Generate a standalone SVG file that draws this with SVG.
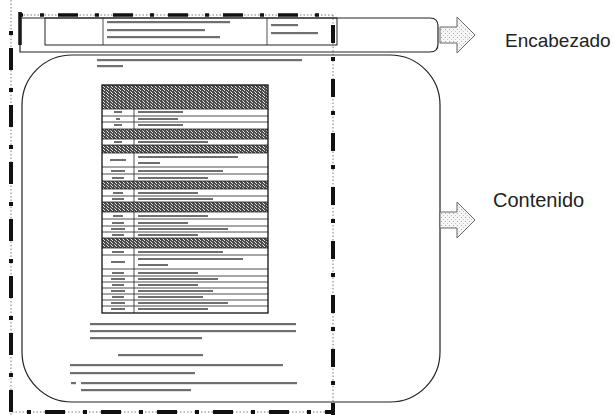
<svg xmlns="http://www.w3.org/2000/svg" width="614" height="415" viewBox="0 0 614 415">
<style>
.thin{fill:none;stroke:#555;stroke-width:0.8;stroke-dasharray:1.5 2}
.blk{fill:none;stroke:#111;stroke-width:4}
.box{fill:none;stroke:#222;stroke-width:1.2}
.ln{stroke:#222;stroke-width:0.8}
.tx{fill:#333;opacity:0.7}
.lbl{font-family:"Liberation Sans",Arial,sans-serif;fill:#222}
.arr{fill:url(#stip);stroke:#666;stroke-width:1}
.sh{fill:url(#dither)}
</style>
<defs>
<pattern id="dither" width="4" height="3" patternUnits="userSpaceOnUse">
<rect width="4" height="3" fill="#4a4a4a"/>
<rect x="0" y="0" width="1" height="1" fill="#ddd"/>
<rect x="2" y="1" width="1" height="1" fill="#bbb"/>
<rect x="3" y="2" width="1" height="1" fill="#eee"/>
</pattern>
<pattern id="stip" width="4" height="4" patternUnits="userSpaceOnUse">
<rect width="4" height="4" fill="#f6f6f6"/>
<rect x="1" y="1" width="1" height="1" fill="#aaa"/>
<rect x="3" y="3" width="1" height="1" fill="#c4c4c4"/>
</pattern>
</defs>
<rect width="614" height="415" fill="#fff"/>

<g id="frame">
<line class="thin" x1="11" y1="0" x2="11" y2="415"/>
<line class="blk" x1="11" y1="15" x2="11" y2="415" style="stroke-dasharray:22 18 4 13;stroke-dashoffset:24"/>
<line class="thin" x1="20" y1="15" x2="333" y2="15"/>
<line class="blk" x1="20" y1="15" x2="333" y2="15" style="stroke-width:3.5;stroke-dasharray:20 17 4 14;stroke-dashoffset:17"/>
<line class="thin" x1="333" y1="15" x2="333" y2="415"/>
<line class="blk" x1="333" y1="25" x2="333" y2="415" style="stroke-dasharray:18 14 4 18"/>
<line class="thin" x1="12" y1="412" x2="333" y2="412"/>
<line class="blk" x1="12" y1="412" x2="333" y2="412" style="stroke-dasharray:20 18 4 14;stroke-dashoffset:23"/>
<line x1="20" y1="12" x2="20" y2="45" stroke="#111" stroke-width="3.5"/>
</g>

<g id="header">
<path class="box" d="M20,18 H430 Q438,18 438,26 V44 Q438,52 430,52 H20 Z"/>
<rect x="45" y="18" width="292" height="27" fill="none" stroke="#222" stroke-width="1"/>
<line class="ln" x1="103" y1="18" x2="103" y2="45"/>
<line class="ln" x1="267" y1="18" x2="267" y2="45"/>
<rect class="tx" x="107" y="21" width="123" height="2.2"/>
<rect class="tx" x="107" y="29" width="98" height="2.2"/>
<rect class="tx" x="107" y="36" width="113" height="2.2"/>
<rect class="tx" x="271" y="24" width="27" height="2.2"/>
<rect class="tx" x="271" y="32" width="47" height="2.2"/>
</g>

<g id="content">
<rect class="box" x="22" y="55" width="418" height="347" rx="50" ry="50"/>
<rect class="tx" x="97" y="59" width="205" height="2.2"/>
<rect class="tx" x="97" y="65" width="26" height="2.2"/>

<g id="table">
<rect class="sh" x="102" y="85" width="166" height="24"/>
<rect class="sh" x="102" y="129" width="166" height="10"/>
<rect class="sh" x="102" y="145" width="166" height="8"/>
<rect class="sh" x="102" y="181" width="166" height="8"/>
<rect class="sh" x="102" y="202" width="166" height="10"/>
<rect class="sh" x="102" y="238" width="166" height="10"/>
<g class="ln">
<line x1="102" y1="109" x2="268" y2="109"/><line x1="102" y1="116" x2="268" y2="116"/><line x1="102" y1="122" x2="268" y2="122"/><line x1="102" y1="129" x2="268" y2="129"/>
<line x1="102" y1="139" x2="268" y2="139"/><line x1="102" y1="145" x2="268" y2="145"/><line x1="102" y1="153" x2="268" y2="153"/>
<line x1="102" y1="167" x2="268" y2="167"/><line x1="102" y1="174" x2="268" y2="174"/><line x1="102" y1="181" x2="268" y2="181"/>
<line x1="102" y1="189" x2="268" y2="189"/><line x1="102" y1="196" x2="268" y2="196"/><line x1="102" y1="202" x2="268" y2="202"/>
<line x1="102" y1="212" x2="268" y2="212"/><line x1="102" y1="219" x2="268" y2="219"/><line x1="102" y1="226" x2="268" y2="226"/><line x1="102" y1="232" x2="268" y2="232"/><line x1="102" y1="238" x2="268" y2="238"/>
<line x1="102" y1="248" x2="268" y2="248"/><line x1="102" y1="255" x2="268" y2="255"/><line x1="102" y1="269" x2="268" y2="269"/><line x1="102" y1="276" x2="268" y2="276"/>
<line x1="102" y1="282" x2="268" y2="282"/><line x1="102" y1="288" x2="268" y2="288"/><line x1="102" y1="294" x2="268" y2="294"/><line x1="102" y1="300" x2="268" y2="300"/><line x1="102" y1="306" x2="268" y2="306"/>
<line x1="134" y1="109" x2="134" y2="129"/><line x1="134" y1="139" x2="134" y2="145"/><line x1="134" y1="153" x2="134" y2="181"/>
<line x1="134" y1="189" x2="134" y2="202"/><line x1="134" y1="212" x2="134" y2="238"/><line x1="134" y1="248" x2="134" y2="313"/>
</g>
<g class="tx">
<rect x="114" y="111" width="8" height="2"/><rect x="138" y="111" width="45" height="2"/>
<rect x="116" y="118" width="4" height="2"/><rect x="138" y="118" width="40" height="2"/>
<rect x="114" y="124" width="8" height="2"/><rect x="138" y="124" width="45" height="2"/>
<rect x="114" y="141" width="8" height="2"/><rect x="138" y="141" width="70" height="2"/>
<rect x="110" y="159" width="16" height="2"/><rect x="138" y="156" width="100" height="2"/><rect x="138" y="162" width="22" height="2"/>
<rect x="111" y="170" width="14" height="2"/><rect x="138" y="170" width="85" height="2"/>
<rect x="112" y="177" width="12" height="2"/><rect x="138" y="177" width="70" height="2"/>
<rect x="113" y="192" width="10" height="2"/><rect x="138" y="192" width="60" height="2"/>
<rect x="112" y="198" width="12" height="2"/><rect x="138" y="198" width="75" height="2"/>
<rect x="113" y="215" width="10" height="2"/><rect x="138" y="215" width="70" height="2"/>
<rect x="112" y="222" width="12" height="2"/><rect x="138" y="222" width="50" height="2"/>
<rect x="111" y="228" width="14" height="2"/><rect x="138" y="228" width="90" height="2"/>
<rect x="112" y="234" width="12" height="2"/><rect x="138" y="234" width="60" height="2"/>
<rect x="112" y="251" width="12" height="2"/><rect x="138" y="251" width="85" height="2"/>
<rect x="111" y="261" width="14" height="2"/><rect x="138" y="258" width="105" height="2"/><rect x="138" y="264" width="30" height="2"/>
<rect x="112" y="272" width="12" height="2"/><rect x="138" y="272" width="60" height="2"/>
<rect x="111" y="278" width="14" height="2"/><rect x="138" y="278" width="80" height="2"/>
<rect x="112" y="284" width="12" height="2"/><rect x="138" y="284" width="60" height="2"/>
<rect x="111" y="290" width="14" height="2"/><rect x="138" y="290" width="75" height="2"/>
<rect x="112" y="296" width="12" height="2"/><rect x="138" y="296" width="65" height="2"/>
<rect x="111" y="302" width="14" height="2"/><rect x="138" y="302" width="90" height="2"/>
<rect x="111" y="308" width="14" height="2"/><rect x="138" y="308" width="70" height="2"/>
</g>
<rect x="102" y="85" width="166" height="228" fill="none" stroke="#111" stroke-width="1.3"/>
</g>

<g class="tx">
<rect x="90" y="323" width="206" height="2.2"/>
<rect x="90" y="330" width="206" height="2.2"/>
<rect x="90" y="337" width="112" height="2.2"/>
<rect x="118" y="354" width="85" height="2.2"/>
<rect x="70" y="364" width="213" height="2.2"/>
<rect x="70" y="372" width="125" height="2.2"/>
<rect x="71" y="382" width="5" height="2.2"/>
<rect x="81" y="382" width="216" height="2.2"/>
<rect x="81" y="389" width="110" height="2.2"/>
</g>
</g>

<g id="connectors">
<polygon class="arr" points="440,27 457,27 457,17 475,35 457,53 457,43 440,43"/>
<polygon class="arr" points="440,212 457,212 457,202 475,220 457,238 457,228 440,228"/>
</g>

<g id="label-encabezado"><text class="lbl" x="505" y="47" font-size="19">Encabezado</text></g>
<g id="label-contenido"><text class="lbl" x="493" y="207" font-size="20">Contenido</text></g>
</svg>
